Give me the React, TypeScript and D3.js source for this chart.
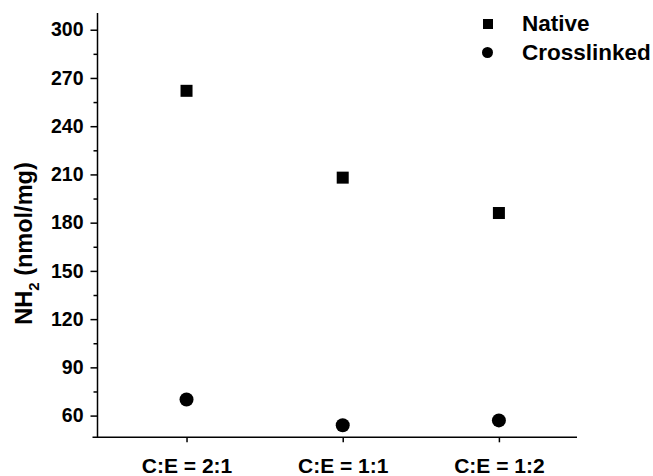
import * as d3 from 'd3';
import { useEffect, useRef } from 'react';

const categories = ['C:E = 2:1', 'C:E = 1:1', 'C:E = 1:2'];
const nativeValues = [262, 208, 186];
const crosslinkedValues = [70, 54, 57];
const yTicks = [60, 90, 120, 150, 180, 210, 240, 270, 300];
const yMinorTicks = [75, 105, 135, 165, 195, 225, 255, 285];
const seriesNames = ['Native', 'Crosslinked'];

const width = 653;
const height = 476;
const margin = { top: 13, right: 76, bottom: 39, left: 97.5 };
const font = '"Liberation Sans", Arial, sans-serif';

function App() {
    const xAxis = useRef<SVGGElement>(null);
    const yAxis = useRef<SVGGElement>(null);
    const yMinor = useRef<SVGGElement>(null);

    // categories sit at 1..3 on a linear axis; the left gap is a bit wider than the right one
    const xScale = d3.scaleLinear().domain([0.43, 3.5]).range([margin.left, width - margin.right]);
    const yScale = d3.scaleLinear().domain([46.5, 310.4]).range([height - margin.bottom + 0.3, margin.top]);

    useEffect(() => {
        const axisLeft = d3.axisLeft(yScale).tickValues(yTicks).tickSize(7).tickPadding(7).tickSizeOuter(0);
        const gy = d3.select(yAxis.current).call(axisLeft);
        gy.select('.domain').remove();
        gy.selectAll('line').attr('stroke-width', 1.5);
        gy.selectAll('text')
            .attr('font-family', font)
            .attr('font-weight', 'bold')
            .attr('font-size', 19.5)
            .attr('fill', '#000');

        const minor = d3.axisLeft(yScale).tickValues(yMinorTicks).tickSize(4).tickFormat(() => '');
        const gm = d3.select(yMinor.current).call(minor);
        gm.select('.domain').remove();
        gm.selectAll('line').attr('stroke-width', 1.5);

        const axisBottom = d3.axisBottom(xScale)
            .tickValues([1, 2, 3])
            .tickFormat((d) => categories[(d as number) - 1])
            .tickSize(5)
            .tickPadding(16);
        const gx = d3.select(xAxis.current).call(axisBottom);
        gx.select('.domain').remove();
        gx.selectAll('line').attr('stroke-width', 1.5);
        gx.selectAll('text')
            .attr('font-family', font)
            .attr('font-weight', 'bold')
            .attr('font-size', 21)
            .attr('fill', '#000');
    }, []);

    const x0 = margin.left;
    const y0 = yScale.range()[0];

    return (
        <svg width={width} height={height} style={{ position: 'absolute', left: 0, top: 0, background: '#fff' }}>
            <g ref={yMinor} transform={`translate(${x0},0)`} />
            <g ref={yAxis} transform={`translate(${x0},0)`} />
            <g ref={xAxis} transform={`translate(0,${y0})`} />
            {/* axis lines, x axis pokes a little past the y axis like the original */}
            <line x1={x0} x2={x0} y1={y0} y2={margin.top} stroke="#000" strokeWidth={1.5} />
            <line x1={x0 - 5} x2={width - margin.right} y1={y0} y2={y0} stroke="#000" strokeWidth={1.5} />

            {nativeValues.map((v, i) => (
                <rect key={'n' + i} x={xScale(i + 1) - 6} y={yScale(v) - 6} width={12} height={12} fill="#000" />
            ))}
            {crosslinkedValues.map((v, i) => (
                <circle key={'c' + i} cx={xScale(i + 1)} cy={yScale(v)} r={7} fill="#000" />
            ))}

            <text
                transform={`translate(32,243.5) rotate(-90)`}
                textAnchor="middle"
                fontFamily={font}
                fontWeight="bold"
                fontSize={23.5}
            >
                NH<tspan fontSize={15} dy={7}>2</tspan><tspan dy={-7}> (nmol/mg)</tspan>
            </text>

            <g fontFamily={font} fontWeight="bold" fontSize={22.5}>
                <rect x={483} y={19} width={10} height={10} fill="#000" />
                <text x={522} y={31}>{seriesNames[0]}</text>
                <circle cx={487.5} cy={52.5} r={5.5} fill="#000" />
                <text x={522} y={59.5}>{seriesNames[1]}</text>
            </g>
        </svg>
    );
}

export default App;
